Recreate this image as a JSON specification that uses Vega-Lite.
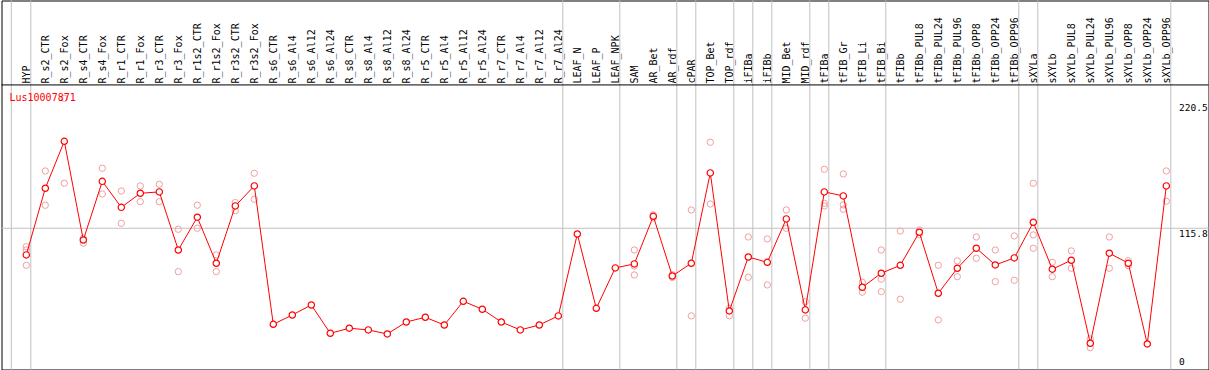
{
  "$schema": "https://vega.github.io/schema/vega-lite/v6.json",
  "width": 1207,
  "height": 369,
  "autosize": {"type": "none"},
  "padding": {"left": 1.5, "top": 0.5, "right": 0, "bottom": 0},
  "background": "white",
  "config": {"view": {"stroke": "black", "strokeWidth": 1}, "font": "DejaVu Sans Mono"},
  "title": {"text": "Lus10007871", "anchor": "start", "frame": "group", "offset": -107.5, "baseline": "middle", "dx": 8, "color": "#ff0000", "font": "DejaVu Sans Mono", "fontSize": 10, "fontWeight": "normal"},
  "datasets": {
    "main": [
      {"tissue": "HYP", "value": 92.6}, {"tissue": "R_s2_CTR", "value": 150.6}, {"tissue": "R_s2_Fox", "value": 191.4}, {"tissue": "R_s4_CTR", "value": 105.6}, {"tissue": "R_s4_Fox", "value": 156.6}, {"tissue": "R_r1_CTR", "value": 134.0}, {"tissue": "R_r1_Fox", "value": 146.2}, {"tissue": "R_r3_CTR", "value": 147.4}, {"tissue": "R_r3_Fox", "value": 96.9}, {"tissue": "R_r1s2_CTR", "value": 125.4}, {"tissue": "R_r1s2_Fox", "value": 85.4}, {"tissue": "R_r3s2_CTR", "value": 135.2}, {"tissue": "R_r3s2_Fox", "value": 152.6}, {"tissue": "R_s6_CTR", "value": 32.3}, {"tissue": "R_s6_Al4", "value": 40.4}, {"tissue": "R_s6_Al12", "value": 49.1}, {"tissue": "R_s6_Al24", "value": 24.5}, {"tissue": "R_s8_CTR", "value": 28.9}, {"tissue": "R_s8_Al4", "value": 27.4}, {"tissue": "R_s8_Al12", "value": 23.9}, {"tissue": "R_s8_Al24", "value": 34.3}, {"tissue": "R_r5_CTR", "value": 38.4}, {"tissue": "R_r5_Al4", "value": 31.7}, {"tissue": "R_r5_Al12", "value": 52.3}, {"tissue": "R_r5_Al24", "value": 45.4}, {"tissue": "R_r7_CTR", "value": 34.3}, {"tissue": "R_r7_Al4", "value": 27.4}, {"tissue": "R_r7_Al12", "value": 31.7}, {"tissue": "R_r7_Al24", "value": 39.6}, {"tissue": "LEAF_N", "value": 110.8}, {"tissue": "LEAF_P", "value": 46.2}, {"tissue": "LEAF_NPK", "value": 81.3}, {"tissue": "SAM", "value": 84.8}, {"tissue": "AR_Bet", "value": 126.2}, {"tissue": "AR_rdf", "value": 74.3}, {"tissue": "cPAR", "value": 85.4}, {"tissue": "TOP_Bet", "value": 163.9}, {"tissue": "TOP_rdf", "value": 43.9}, {"tissue": "iFIBa", "value": 90.8}, {"tissue": "iFIBb", "value": 86.2}, {"tissue": "MID_Bet", "value": 123.9}, {"tissue": "MID_rdf", "value": 44.8}, {"tissue": "tFIBa", "value": 147.4}, {"tissue": "tFIB_Gr", "value": 143.9}, {"tissue": "tFIB_Li", "value": 64.5}, {"tissue": "tFIB_Bi", "value": 76.7}, {"tissue": "tFIBb", "value": 83.6}, {"tissue": "tFIBb_PUL8", "value": 112.3}, {"tissue": "tFIBb_PUL24", "value": 59.3}, {"tissue": "tFIBb_PUL96", "value": 81.0}, {"tissue": "tFIBb_OPP8", "value": 98.4}, {"tissue": "tFIBb_OPP24", "value": 83.9}, {"tissue": "tFIBb_OPP96", "value": 90.0}, {"tissue": "sXYLa", "value": 121.0}, {"tissue": "sXYLb", "value": 80.2}, {"tissue": "sXYLb_PUL8", "value": 88.0}, {"tissue": "sXYLb_PUL24", "value": 15.8}, {"tissue": "sXYLb_PUL96", "value": 94.1}, {"tissue": "sXYLb_OPP8", "value": 85.4}, {"tissue": "sXYLb_OPP24", "value": 15.2}, {"tissue": "sXYLb_OPP96", "value": 152.6}
    ],
    "reps": [
      {"tissue": "HYP", "value": 99.8}, {"tissue": "HYP", "value": 96.9}, {"tissue": "HYP", "value": 83.6},
      {"tissue": "R_s2_CTR", "value": 165.6}, {"tissue": "R_s2_CTR", "value": 135.8},
      {"tissue": "R_s2_Fox", "value": 228.8}, {"tissue": "R_s2_Fox", "value": 154.9},
      {"tissue": "R_s4_CTR", "value": 107.1}, {"tissue": "R_s4_CTR", "value": 102.8},
      {"tissue": "R_s4_Fox", "value": 168.0}, {"tissue": "R_s4_Fox", "value": 145.6},
      {"tissue": "R_r1_CTR", "value": 148.2}, {"tissue": "R_r1_CTR", "value": 120.1},
      {"tissue": "R_r1_Fox", "value": 152.6}, {"tissue": "R_r1_Fox", "value": 138.9},
      {"tissue": "R_r3_CTR", "value": 154.0}, {"tissue": "R_r3_CTR", "value": 138.9},
      {"tissue": "R_r3_Fox", "value": 114.9}, {"tissue": "R_r3_Fox", "value": 78.1},
      {"tissue": "R_r1s2_CTR", "value": 135.8}, {"tissue": "R_r1s2_CTR", "value": 115.8},
      {"tissue": "R_r1s2_Fox", "value": 92.6}, {"tissue": "R_r1s2_Fox", "value": 78.1},
      {"tissue": "R_r3s2_CTR", "value": 138.1}, {"tissue": "R_r3s2_CTR", "value": 131.1},
      {"tissue": "R_r3s2_Fox", "value": 163.6}, {"tissue": "R_r3s2_Fox", "value": 141.0},
      {"tissue": "SAM", "value": 96.9}, {"tissue": "SAM", "value": 75.2}, {"tissue": "SAM", "value": 83.0},
      {"tissue": "AR_Bet", "value": 127.5}, {"tissue": "AR_Bet", "value": 124.9},
      {"tissue": "AR_rdf", "value": 75.5}, {"tissue": "AR_rdf", "value": 73.0},
      {"tissue": "cPAR", "value": 131.7}, {"tissue": "cPAR", "value": 39.6},
      {"tissue": "TOP_Bet", "value": 190.6}, {"tissue": "TOP_Bet", "value": 136.9},
      {"tissue": "TOP_rdf", "value": 46.2}, {"tissue": "TOP_rdf", "value": 39.8},
      {"tissue": "iFIBa", "value": 108.2}, {"tissue": "iFIBa", "value": 73.2},
      {"tissue": "iFIBb", "value": 106.5}, {"tissue": "iFIBb", "value": 66.5},
      {"tissue": "MID_Bet", "value": 131.7}, {"tissue": "MID_Bet", "value": 115.8},
      {"tissue": "MID_rdf", "value": 52.0}, {"tissue": "MID_rdf", "value": 37.6},
      {"tissue": "tFIBa", "value": 167.1}, {"tissue": "tFIBa", "value": 137.5}, {"tissue": "tFIBa", "value": 135.2},
      {"tissue": "tFIB_Gr", "value": 163.0}, {"tissue": "tFIB_Gr", "value": 136.1}, {"tissue": "tFIB_Gr", "value": 132.3},
      {"tissue": "tFIB_Li", "value": 68.9}, {"tissue": "tFIB_Li", "value": 60.2},
      {"tissue": "tFIB_Bi", "value": 96.9}, {"tissue": "tFIB_Bi", "value": 71.5}, {"tissue": "tFIB_Bi", "value": 60.7},
      {"tissue": "tFIBb", "value": 113.4}, {"tissue": "tFIBb", "value": 54.1},
      {"tissue": "tFIBb_PUL8", "value": 114.3}, {"tissue": "tFIBb_PUL8", "value": 110.3},
      {"tissue": "tFIBb_PUL24", "value": 83.6}, {"tissue": "tFIBb_PUL24", "value": 36.1},
      {"tissue": "tFIBb_PUL96", "value": 87.4}, {"tissue": "tFIBb_PUL96", "value": 73.7},
      {"tissue": "tFIBb_OPP8", "value": 108.2}, {"tissue": "tFIBb_OPP8", "value": 89.7},
      {"tissue": "tFIBb_OPP24", "value": 96.9}, {"tissue": "tFIBb_OPP24", "value": 69.4},
      {"tissue": "tFIBb_OPP96", "value": 109.1}, {"tissue": "tFIBb_OPP96", "value": 70.6},
      {"tissue": "sXYLa", "value": 154.9}, {"tissue": "sXYLa", "value": 110.0}, {"tissue": "sXYLa", "value": 98.4},
      {"tissue": "sXYLb", "value": 86.2}, {"tissue": "sXYLb", "value": 73.7},
      {"tissue": "sXYLb_PUL8", "value": 96.1}, {"tissue": "sXYLb_PUL8", "value": 81.0},
      {"tissue": "sXYLb_PUL24", "value": 19.6}, {"tissue": "sXYLb_PUL24", "value": 12.0},
      {"tissue": "sXYLb_PUL96", "value": 108.2}, {"tissue": "sXYLb_PUL96", "value": 81.0},
      {"tissue": "sXYLb_OPP8", "value": 87.6}, {"tissue": "sXYLb_OPP8", "value": 83.3},
      {"tissue": "sXYLb_OPP96", "value": 165.6}, {"tissue": "sXYLb_OPP96", "value": 139.3}
    ],
    "sepFirst": [{"tissue": "HYP"}],
    "sepAfter": [
      {"tissue": "HYP"}, {"tissue": "R_r7_Al24"}, {"tissue": "LEAF_NPK"}, {"tissue": "AR_rdf"}, {"tissue": "cPAR"}, {"tissue": "TOP_rdf"}, {"tissue": "iFIBa"}, {"tissue": "iFIBb"}, {"tissue": "MID_rdf"}, {"tissue": "tFIBa"}, {"tissue": "tFIB_Bi"}, {"tissue": "tFIBb_OPP96"}, {"tissue": "sXYLa"}, {"tissue": "sXYLb_OPP96"}
    ],
    "refs": [{"name": "grid", "level": 115.8}],
    "frame": [{"name": "labelband", "level": 240.4}]
  },
  "layer": [
    {
      "data": {"name": "sepFirst"},
      "mark": {"type": "rule", "color": "#c0c0c0", "strokeWidth": 1, "xOffset": -15},
      "encoding": {"x": {"field": "tissue", "type": "nominal"}}
    },
    {
      "data": {"name": "sepAfter"},
      "mark": {"type": "rule", "color": "#c0c0c0", "strokeWidth": 1, "xOffset": 4.5},
      "encoding": {"x": {"field": "tissue", "type": "nominal"}}
    },
    {
      "data": {"name": "refs"},
      "mark": {"type": "rule", "color": "#c0c0c0", "strokeWidth": 1},
      "encoding": {"y": {"field": "level", "type": "quantitative"}}
    },
    {
      "data": {"name": "frame"},
      "mark": {"type": "rule", "color": "black", "strokeWidth": 1},
      "encoding": {"y": {"field": "level", "type": "quantitative"}}
    },
    {
      "data": {"name": "reps"},
      "mark": {"type": "point", "shape": "circle", "filled": false, "stroke": "#f0a0a0", "strokeWidth": 1, "size": 40, "opacity": 1},
      "encoding": {
        "x": {"field": "tissue", "type": "nominal"},
        "y": {"field": "value", "type": "quantitative"}
      }
    },
    {
      "data": {"name": "main"},
      "mark": {"type": "line", "color": "#ff0000", "strokeWidth": 1},
      "encoding": {
        "x": {
          "field": "tissue", "type": "nominal", "sort": null,
          "scale": {
            "type": "point",
            "padding": 0,
            "domain": ["HYP","R_s2_CTR","R_s2_Fox","R_s4_CTR","R_s4_Fox","R_r1_CTR","R_r1_Fox","R_r3_CTR","R_r3_Fox","R_r1s2_CTR","R_r1s2_Fox","R_r3s2_CTR","R_r3s2_Fox","R_s6_CTR","R_s6_Al4","R_s6_Al12","R_s6_Al24","R_s8_CTR","R_s8_Al4","R_s8_Al12","R_s8_Al24","R_r5_CTR","R_r5_Al4","R_r5_Al12","R_r5_Al24","R_r7_CTR","R_r7_Al4","R_r7_Al12","R_r7_Al24","LEAF_N","LEAF_P","LEAF_NPK","SAM","AR_Bet","AR_rdf","cPAR","TOP_Bet","TOP_rdf","iFIBa","iFIBb","MID_Bet","MID_rdf","tFIBa","tFIB_Gr","tFIB_Li","tFIB_Bi","tFIBb","tFIBb_PUL8","tFIBb_PUL24","tFIBb_PUL96","tFIBb_OPP8","tFIBb_OPP24","tFIBb_OPP96","sXYLa","sXYLb","sXYLb_PUL8","sXYLb_PUL24","sXYLb_PUL96","sXYLb_OPP8","sXYLb_OPP24","sXYLb_OPP96"],
            "range": [24.8, 1164.8]
          },
          "axis": {"orient": "top", "title": null, "domain": false, "ticks": false, "tickSize": 0, "grid": false, "labelAngle": -90, "labelAlign": "left", "labelBaseline": "middle", "labelPadding": -82.5, "labelFont": "DejaVu Sans Mono", "labelFontSize": 10, "labelColor": "black", "labelOverlap": false, "labelBound": false, "labelFlush": false, "labelLimit": 0}
        },
        "y": {
          "field": "value", "type": "quantitative",
          "scale": {"domain": [-7.0, 313.8], "nice": false, "zero": false},
          "axis": {"orient": "right", "values": [0, 115.8, 220.5], "title": null, "domain": false, "ticks": false, "tickSize": 0, "grid": false, "labelPadding": -30, "labelAlign": "left", "labelBaseline": {"condition": {"test": "datum.value === 115.8", "value": "top"}, "value": "middle"}, "labelExpr": "'' + datum.value", "labelFont": "DejaVu Sans Mono", "labelFontSize": 9.5, "labelColor": "black", "labelOverlap": false, "labelFlush": false, "labelBound": false}
        }
      }
    },
    {
      "data": {"name": "main"},
      "mark": {"type": "point", "shape": "circle", "filled": false, "fill": "white", "stroke": "#ff0000", "strokeWidth": 1.2, "size": 40, "opacity": 1},
      "encoding": {
        "x": {"field": "tissue", "type": "nominal"},
        "y": {"field": "value", "type": "quantitative"}
      }
    }
  ]
}
